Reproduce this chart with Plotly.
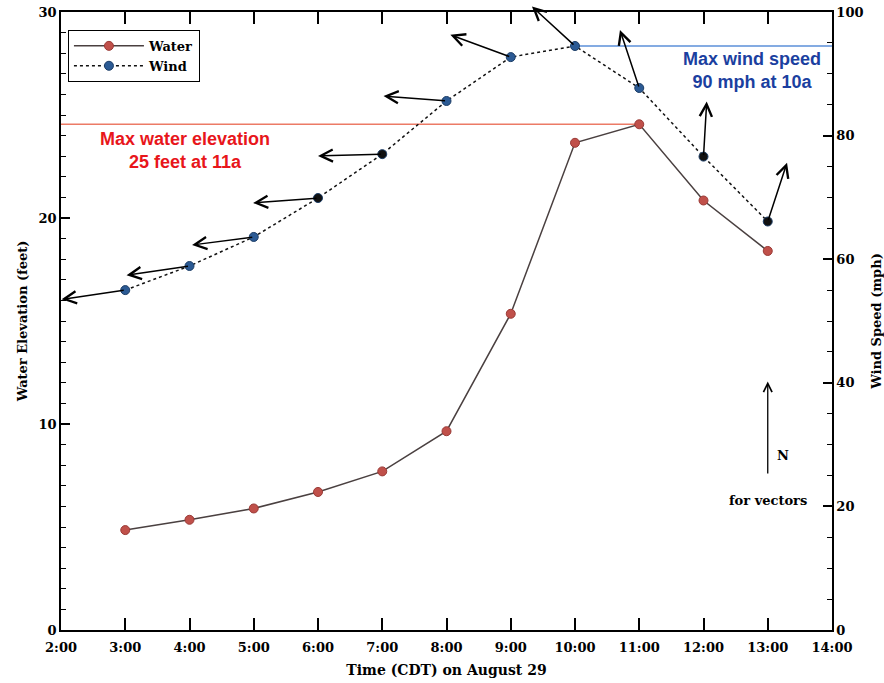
import plotly.graph_objects as go

# ---- data ----
hours = [3, 4, 5, 6, 7, 8, 9, 10, 11, 12, 13]
water_ft = [4.85, 5.35, 5.9, 6.7, 7.7, 9.65, 15.35, 23.65, 24.55, 20.85, 18.4]
wind_mph = [55.0, 58.9, 63.6, 69.9, 77.0, 85.6, 92.7, 94.5, 87.7, 76.6, 66.1]
wind_marker_colors = ["#2b5a94", "#2b5a94", "#2b5a94", "#111111", "#111111", "#2b5a94",
                      "#2b5a94", "#2b5a94", "#2b5a94", "#111111", "#111111"]
# wind vector tips (hour, mph) starting from each wind point
vec_tip_hour = [2.01, 3.02, 4.04, 4.99, 6.0, 7.02, 8.06, 9.33, 10.70, 12.05, 13.30]
vec_tip_mph = [53.5, 57.4, 62.3, 69.1, 76.7, 86.4, 96.3, 100.9, 97.1, 85.5, 75.6]
# max markers
max_water_ft = 24.55
max_water_hours = [2, 11]
max_wind_mph = 94.5
max_wind_hours = [10, 14]
# north reference vector
north_hour = 13.0
north_mph = [25.1, 40.2]

x_tickvals = list(range(2, 15))
x_ticktext = [f"{h}:00" for h in x_tickvals]

SERIF = "DejaVu Serif"
NARROW = "Liberation Sans Narrow, Arial Narrow, Liberation Sans"

fig = go.Figure()

fig.add_trace(go.Scatter(x=max_water_hours, y=[max_water_ft] * 2, mode="lines",
                         line=dict(color="#ec7b66", width=1.5), showlegend=False,
                         hoverinfo="skip"))
fig.add_trace(go.Scatter(x=max_wind_hours, y=[max_wind_mph] * 2, mode="lines", yaxis="y2",
                         line=dict(color="#5b8fd8", width=1.5), showlegend=False,
                         hoverinfo="skip"))

fig.add_trace(go.Scatter(x=hours, y=water_ft, name="Water", mode="lines+markers",
                         line=dict(color="#4a4040", width=1.5),
                         marker=dict(color="#c0504a", size=9,
                                     line=dict(color="#9a3a36", width=1))))
fig.add_trace(go.Scatter(x=hours, y=wind_mph, name="Wind", mode="lines+markers", yaxis="y2",
                         line=dict(color="#111111", width=1.5, dash="dot"),
                         marker=dict(color=wind_marker_colors, size=9,
                                     line=dict(color="#1c3d66", width=1))))

annotations = []
for h, w, th, tw in zip(hours, wind_mph, vec_tip_hour, vec_tip_mph):
    annotations.append(dict(x=th, y=tw, xref="x", yref="y2", ax=h, ay=w,
                            axref="x", ayref="y2", text="", showarrow=True,
                            arrowhead=5, arrowsize=1.6, arrowwidth=1.5,
                            arrowcolor="black", standoff=0, startstandoff=0))
annotations.append(dict(x=north_hour, y=north_mph[1], xref="x", yref="y2",
                        ax=north_hour, ay=north_mph[0], axref="x", ayref="y2",
                        text="", showarrow=True, arrowhead=5, arrowsize=1.3,
                        arrowwidth=1.3, arrowcolor="black", standoff=0))
annotations.append(dict(x=13.23, y=28.3, xref="x", yref="y2", text="N", showarrow=False,
                        font=dict(family=SERIF, size=13, color="black", weight="bold")))
annotations.append(dict(x=13.0, y=21.0, xref="x", yref="y2", text="for vectors",
                        showarrow=False,
                        font=dict(family=SERIF, size=13, color="black", weight="bold")))
annotations.append(dict(x=3.93, y=23.3, xref="x", yref="y",
                        text="Max water elevation<br>25 feet at 11a", showarrow=False,
                        align="center",
                        font=dict(family=NARROW, size=18, color="#e8161b", weight="bold")))
annotations.append(dict(x=12.76, y=90.6, xref="x", yref="y2",
                        text="Max wind speed<br>90 mph at 10a", showarrow=False,
                        align="center",
                        font=dict(family=NARROW, size=18, color="#1b3fa0", weight="bold")))

axis_font = dict(family=SERIF, size=13, color="black", weight="bold")

fig.update_layout(
    width=884, height=683,
    margin=dict(l=61, r=52, t=12, b=53),
    paper_bgcolor="white", plot_bgcolor="white",
    font=axis_font,
    showlegend=True,
    legend=dict(x=0.009, y=0.971, xanchor="left", yanchor="top",
                bordercolor="black", borderwidth=1, bgcolor="white",
                font=dict(family=SERIF, size=13, color="black", weight="bold"),
                tracegroupgap=0, itemwidth=70),
    xaxis=dict(range=[2, 14], tickvals=x_tickvals, ticktext=x_ticktext,
               showgrid=False, zeroline=False, showline=True, linecolor="black",
               linewidth=1.5, mirror="ticks", ticks="inside", ticklen=12,
               tickwidth=1.5, tickcolor="black", tickfont=axis_font,
               ticklabelstandoff=5, automargin=False, ticklabeloverflow="allow",
               title=dict(text="Time (CDT) on August 29", font=dict(family=SERIF, size=14,
                          color="black", weight="bold"), standoff=11)),
    yaxis=dict(range=[0, 30], tickvals=[0, 10, 20, 30], showgrid=False, zeroline=False,
               showline=True, linecolor="black", linewidth=1.5, ticks="inside",
               ticklen=9, tickwidth=1.5, tickcolor="black", tickfont=axis_font,
               automargin=False, ticklabeloverflow="allow",
               minor=dict(dtick=1, ticks="inside", ticklen=5, tickcolor="black",
                          tickwidth=1, showgrid=False),
               title=dict(text="Water Elevation (feet)", font=axis_font, standoff=8)),
    yaxis2=dict(range=[0, 100], tickvals=[0, 20, 40, 60, 80, 100], overlaying="y",
                side="right", showgrid=False, zeroline=False, showline=True,
                linecolor="black", linewidth=1.5, ticks="inside", ticklen=9,
                tickwidth=1.5, tickcolor="black", tickfont=axis_font,
                automargin=False, ticklabeloverflow="allow",
                minor=dict(dtick=5, ticks="inside", ticklen=5, tickcolor="black",
                           tickwidth=1, showgrid=False),
                title=dict(text="Wind Speed (mph)", font=axis_font, standoff=17)),
    annotations=annotations,
)

fig.write_html("out.html", config={"displayModeBar": False},
               post_script="document.body.style.margin='0';document.body.style.overflow='hidden';")
